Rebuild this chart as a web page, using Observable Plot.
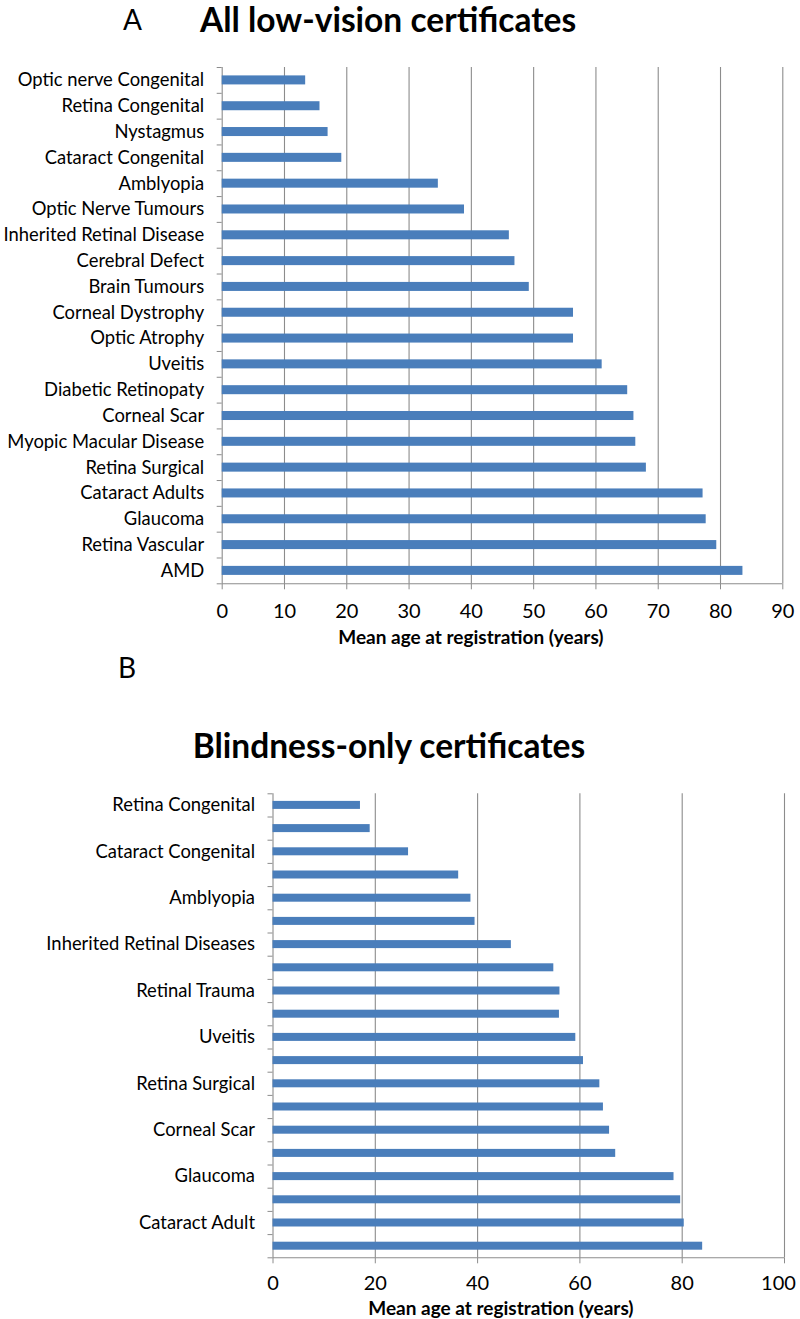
<!DOCTYPE html>
<html><head><meta charset="utf-8">
<script src="https://cdn.jsdelivr.net/npm/d3@7"></script>
<script src="https://cdn.jsdelivr.net/npm/@observablehq/plot@0.6"></script>
<style>
body{margin:0;background:#fff;font-family:Lato,sans-serif;}
#page{position:relative;width:800px;height:1319px;overflow:hidden;background:#fff;}
.t{position:absolute;white-space:nowrap;color:#000;line-height:1;font-family:Lato,sans-serif;}
svg{position:absolute;left:0;}
</style></head><body><div id="page"></div>
<script>
// Panel A: all low-vision certificates
const aCategories = ["Optic nerve Congenital","Retina Congenital","Nystagmus","Cataract Congenital","Amblyopia","Optic Nerve Tumours","Inherited Retinal Disease","Cerebral Defect","Brain Tumours","Corneal Dystrophy","Optic Atrophy","Uveitis","Diabetic Retinopaty","Corneal Scar","Myopic Macular Disease","Retina Surgical","Cataract Adults","Glaucoma","Retina Vascular","AMD"];
const aValues = [13.4,15.7,17.0,19.2,34.7,38.9,46.1,47.0,49.3,56.4,56.4,61.0,65.1,66.1,66.4,68.1,77.2,77.7,79.4,83.6];
const aTicks = [0,10,20,30,40,50,60,70,80,90];

// Panel B: blindness-only certificates (only every other category is labelled)
const bLabels = ["Retina Congenital","","Cataract Congenital","","Amblyopia","","Inherited Retinal Diseases","","Retinal Trauma","","Uveitis","","Retina Surgical","","Corneal Scar","","Glaucoma","","Cataract Adult",""];
const bValues = [17.1,19.0,26.5,36.3,38.7,39.5,46.6,54.9,56.1,56.0,59.2,60.7,63.9,64.6,65.8,67.0,78.4,79.7,80.4,84.0];
const bTicks = [0,20,40,60,80,100];

const titleA = "All low-vision certificates";
const titleB = "Blindness-only certificates";
const xLabel = "Mean age at registration (years)";

const GRAY = "#8c8c8c";
const BLUE = "#4a7ebb";
const page = document.getElementById("page");

function addText(txt, left, top, size, weight) {
  const d = document.createElement("div");
  d.className = "t";
  d.textContent = txt;
  d.style.left = left + "px";
  d.style.top = top + "px";
  d.style.fontSize = size + "px";
  d.style.fontWeight = weight;
  page.appendChild(d);
}

function panel({labels, values, ticks, xmax, top, height, mt, mb, ml, mr, inset, tickPad, lastDx}) {
  const n = labels.length;
  const rows = values.map((v, i) => ({label: labels[i], value: v, i}));
  const inner = ticks.slice(0, -1);
  const last = ticks.slice(-1);
  const svg = Plot.plot({
    width: 800,
    height,
    marginTop: mt,
    marginBottom: mb,
    marginLeft: ml,
    marginRight: mr,
    style: {fontFamily: "Lato, sans-serif", fontSize: "18px", color: "#000", background: "transparent"},
    x: {domain: [0, xmax]},
    y: {domain: [0, n], reverse: true},
    marks: [
      Plot.gridX({ticks, stroke: GRAY, strokeOpacity: 1, strokeWidth: 1.1}),
      Plot.ruleY([n], {stroke: GRAY, strokeWidth: 1.1}),
      Plot.rect(rows, {x1: 0, x2: "value", y1: "i", y2: d => d.i + 1, insetTop: inset, insetBottom: inset, fill: BLUE}),
      // tick marks of the value axis
      Plot.axisX({ticks, tickSize: 6, stroke: GRAY, tickFormat: () => "", label: null}),
      // tick labels of the value axis
      Plot.axisX({ticks: inner, tickSize: 0, tickPadding: tickPad + 6, fill: "#000", fontSize: 20, label: null, tickFormat: d => String(d)}),
      Plot.axisX({ticks: last, tickSize: 0, tickPadding: tickPad + 6, fill: "#000", fontSize: 20, label: null, tickFormat: d => String(d), dx: lastDx}),
      // category boundary ticks and category labels
      Plot.axisY({ticks: d3.range(n + 1), tickSize: 5, stroke: GRAY, tickFormat: () => "", label: null}),
      Plot.axisY({ticks: d3.range(n).map(i => i + 0.5), tickSize: 0, tickPadding: 18, fill: "#000", fontSize: 18.4, label: null, tickFormat: t => labels[Math.floor(t)]})
    ]
  });
  svg.style.top = top + "px";
  page.appendChild(svg);
}

panel({labels: aCategories, values: aValues, ticks: aTicks, xmax: 90, top: 0, height: 650,
       mt: 67, mb: 66.7, ml: 221.7, mr: 17.7, inset: 8.4, tickPad: 13.5, lastDx: 0});
panel({labels: bLabels, values: bValues, ticks: bTicks, xmax: 100, top: 700, height: 619,
       mt: 93.3, mb: 61.7, ml: 272.5, mr: 16, inset: 7.6, tickPad: 11.5, lastDx: -6});

addText("A", 123, 5.2, 28, 400);
addText(titleA, 200, 3.4, 33.5, 700);
addText(xLabel, 338.3, 626.6, 19, 700);
addText("B", 118, 653.2, 28, 400);
addText(titleB, 192.7, 729, 33.5, 700);
addText(xLabel, 368.3, 1298.2, 19, 700);
</script>
</body></html>
